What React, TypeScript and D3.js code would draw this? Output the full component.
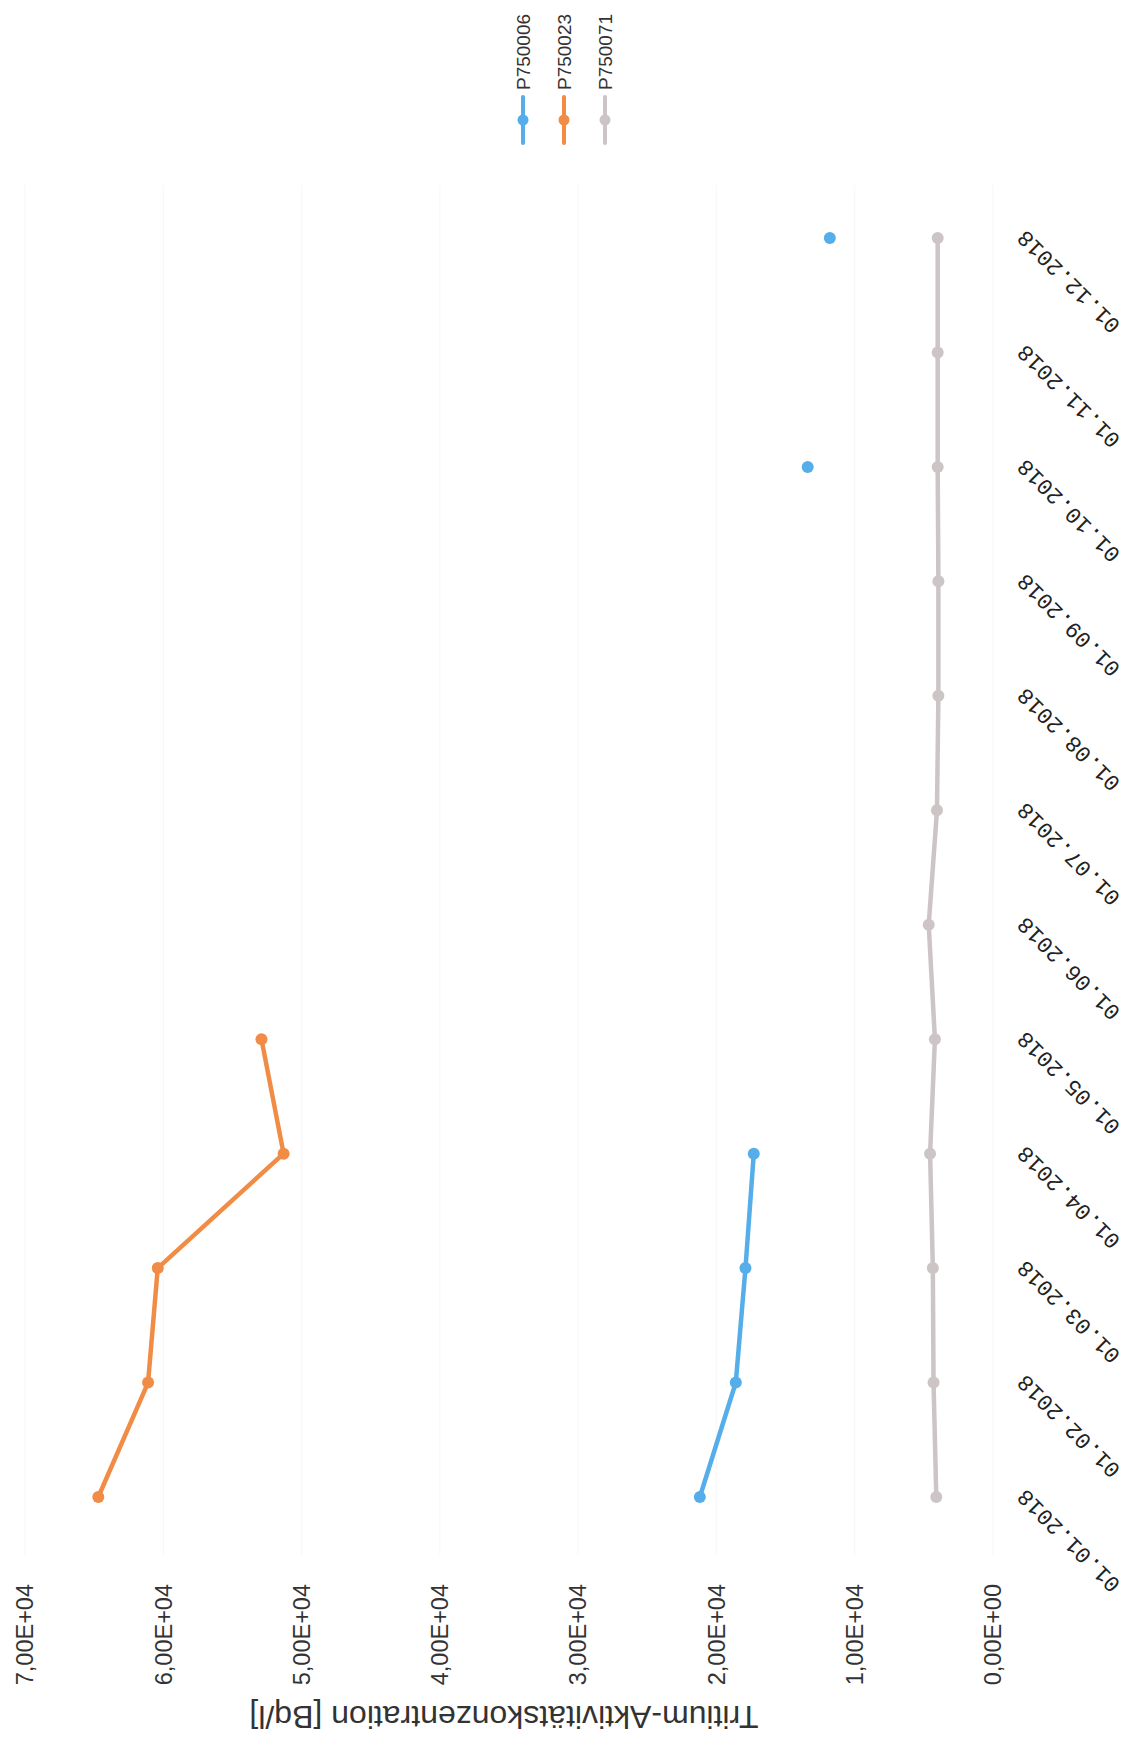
import React from "react";
import * as d3 from "d3";

const dates = [
  "01.01.2018", "01.02.2018", "01.03.2018", "01.04.2018", "01.05.2018", "01.06.2018",
  "01.07.2018", "01.08.2018", "01.09.2018", "01.10.2018", "01.11.2018", "01.12.2018",
];
const p750006: (number | null)[] = [21200, 18600, 17900, 17300, null, null, null, null, null, 13400, null, 11800];
const p750023: (number | null)[] = [64700, 61100, 60400, 51300, 52900, null, null, null, null, null, null, null];
const p750071: (number | null)[] = [4100, 4300, 4350, 4550, 4200, 4650, 4050, 3950, 3950, 4000, 4000, 4000];
const seriesNames = ["P750006", "P750023", "P750071"];
const seriesColors = ["#55aeea", "#f08c46", "#cdc4c6"];
const yTicks = [0, 10000, 20000, 30000, 40000, 50000, 60000, 70000];
const axisTitle = "Tritium-Aktivitätskonzentration [Bq/l]";

const W = 1137;
const H = 1741;

const fmt = (v: number) => {
  const s = v.toExponential(2).toUpperCase();
  const [m, e] = s.split("E");
  const sign = e[0] === "-" ? "-" : "+";
  const ex = e.replace(/[+-]/, "").padStart(2, "0");
  return m.replace(".", ",") + "E" + sign + ex;
};

export default function App() {
  const vScale = d3.scaleLinear().domain([0, 70000]).range([993, 25]);
  const dScale = d3.scalePoint<string>().domain(dates).range([1497, 238]);
  const series = [p750006, p750023, p750071];

  const line = d3
    .line<number | null>()
    .defined((d) => d != null)
    .x((d) => vScale(d as number))
    .y((_d, i) => dScale(dates[i]) as number);

  return (
    <svg
      width={W}
      height={H}
      style={{ position: "absolute", left: 0, top: 0, display: "block", background: "#fff" }}
    >
      <rect x={0} y={0} width={W} height={H} fill="#fff" />
      {yTicks.map((t) => (
        <line
          key={"g" + t}
          x1={vScale(t)}
          x2={vScale(t)}
          y1={185}
          y2={1555}
          stroke="#f8f8f8"
          strokeWidth={1.2}
        />
      ))}
      {yTicks.map((t) => (
        <text
          key={"t" + t}
          transform={`translate(${vScale(t)},1584) rotate(-90)`}
          textAnchor="end"
          dy="0.35em"
          fontFamily="Liberation Sans, Arial, sans-serif"
          fontSize={23.5}
          fill="#333"
        >
          {fmt(t)}
        </text>
      ))}
      <text
        transform={`translate(504,1717) rotate(180)`}
        textAnchor="middle"
        dy="0.35em"
        fontFamily="Liberation Sans, Arial, sans-serif"
        fontSize={32}
        fill="#333"
      >
        {axisTitle}
      </text>
      {dates.map((d) => (
        <text
          key={d}
          transform={`translate(1026,${(dScale(d) as number) - 9}) rotate(-135)`}
          textAnchor="end"
          fontFamily="Liberation Mono, DejaVu Sans Mono, monospace"
          fontSize={22.5}
          fill="#222"
        >
          {d}
        </text>
      ))}
      {series.map((s, si) => (
        <g key={seriesNames[si]}>
          <path
            d={line(s) || ""}
            fill="none"
            stroke={seriesColors[si]}
            strokeWidth={4.5}
            strokeLinejoin="round"
            strokeLinecap="round"
          />
          {s.map((v, i) =>
            v == null ? null : (
              <circle
                key={i}
                cx={vScale(v)}
                cy={dScale(dates[i]) as number}
                r={6}
                fill={seriesColors[si]}
              />
            )
          )}
        </g>
      ))}
      {seriesNames.map((n, i) => {
        const x = 523 + i * 41;
        return (
          <g key={"l" + n}>
            <line x1={x} x2={x} y1={97} y2={143} stroke={seriesColors[i]} strokeWidth={4} strokeLinecap="round" />
            <circle cx={x} cy={120} r={5.5} fill={seriesColors[i]} />
            <text
              transform={`translate(${x},90) rotate(-90)`}
              textAnchor="start"
              dy="0.35em"
              fontFamily="Liberation Sans, Arial, sans-serif"
              fontSize={19}
              fill="#333"
            >
              {n}
            </text>
          </g>
        );
      })}
    </svg>
  );
}
